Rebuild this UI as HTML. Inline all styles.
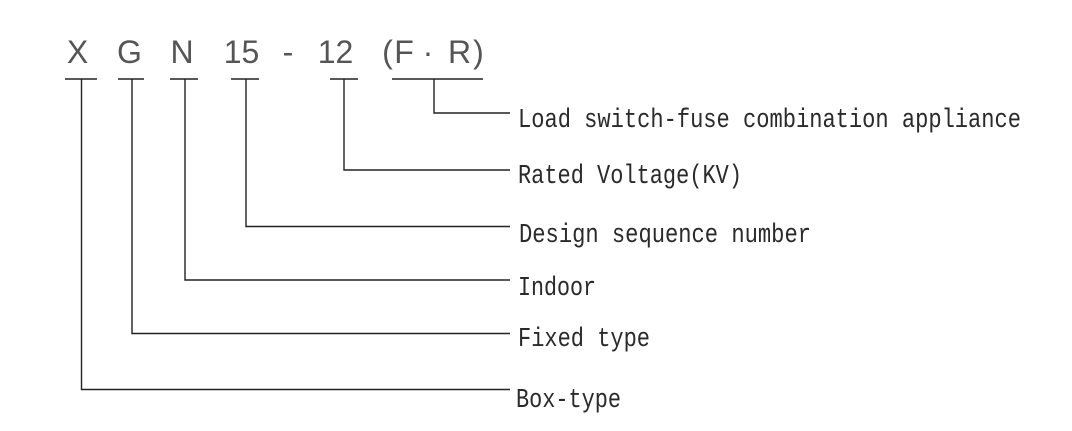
<!DOCTYPE html>
<html>
<head>
<meta charset="utf-8">
<style>
  html,body{margin:0;padding:0;background:#ffffff;}
  svg{display:block;}
  .code{font-family:"Liberation Sans",sans-serif;font-size:32px;fill:#555;}
  .lbl{font-family:"Liberation Mono",monospace;font-size:22px;fill:#2a2a2a;}
</style>
</head>
<body>
<svg width="1072" height="431" viewBox="0 0 1072 431" xmlns="http://www.w3.org/2000/svg">
  <rect width="1072" height="431" fill="#ffffff"/>
  <!-- code letters -->
  <g class="code" text-anchor="middle">
    <text x="77.5" y="63">X</text>
    <text x="129.5" y="63">G</text>
    <text x="182" y="63">N</text>
    <text x="241.5" y="63">15</text>
    <text x="288" y="63">-</text>
    <text x="335.5" y="63">12</text>
    <text x="387.5" y="63">(</text>
    <text x="404" y="63">F</text>
    <text x="428" y="63">·</text>
    <text x="459.5" y="63">R</text>
    <text x="478.5" y="63">)</text>
  </g>
  <g stroke="#222" stroke-width="1.4" fill="none">
    <!-- T bars -->
    <line x1="65" y1="79" x2="97" y2="79"/>
    <line x1="118" y1="79" x2="144" y2="79"/>
    <line x1="170" y1="79" x2="198" y2="79"/>
    <line x1="231" y1="79" x2="259" y2="79"/>
    <line x1="330" y1="79" x2="358" y2="79"/>
    <line x1="392" y1="79" x2="483" y2="79"/>
    <!-- connectors -->
    <polyline points="434,79 434,113 510,113"/>
    <polyline points="344,79 344,170 510,170"/>
    <polyline points="246,79 246,226.5 510,226.5"/>
    <polyline points="185,79 185,280 510,280"/>
    <polyline points="132,79 132,333.5 510,333.5"/>
    <polyline points="81.5,79 81.5,389.5 510,389.5"/>
  </g>
  <!-- labels -->
  <g class="lbl">
    <text transform="translate(518,127) scale(1,1.22)" textLength="503" lengthAdjust="spacingAndGlyphs">Load switch-fuse combination appliance</text>
    <text transform="translate(518,183) scale(1,1.22)" textLength="224" lengthAdjust="spacingAndGlyphs">Rated Voltage(KV)</text>
    <text transform="translate(519,242) scale(1,1.22)" textLength="292" lengthAdjust="spacingAndGlyphs">Design sequence number</text>
    <text transform="translate(518,295) scale(1,1.22)" textLength="78" lengthAdjust="spacingAndGlyphs">Indoor</text>
    <text transform="translate(518,346) scale(1,1.22)" textLength="132" lengthAdjust="spacingAndGlyphs">Fixed type</text>
    <text transform="translate(516,407) scale(1,1.22)" textLength="105" lengthAdjust="spacingAndGlyphs">Box-type</text>
  </g>
</svg>
</body>
</html>
